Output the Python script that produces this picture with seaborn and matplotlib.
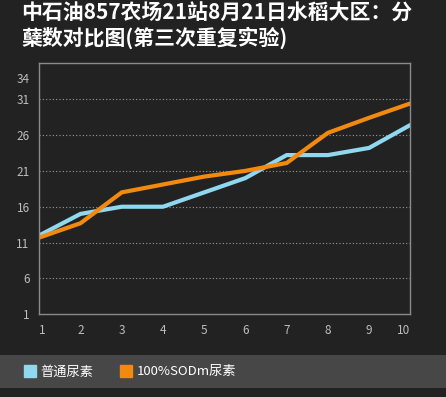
import pandas as pd
import seaborn as sns
from matplotlib import pyplot as plt
from matplotlib.lines import Line2D
from matplotlib.patches import Rectangle

days = [1, 2, 3, 4, 5, 6, 7, 8, 9, 10]
normal_urea = [12, 15, 16, 16, 18, 20, 23.2, 23.2, 24.2, 27.4]
sod_urea = [11.7, 13.7, 18, 19.1, 20.2, 21, 22.1, 26.3, 28.4, 30.4]
series_names = ["普通尿素", "100%SODm尿素"]
y_ticks = [1, 6, 11, 16, 21, 26, 31, 34]

title = "中石油857农场21站8月21日水稻大区：分\n蘖数对比图(第三次重复实验)"

BG = "#222222"
BAND = "#474747"
TEXT = "#bdbdbd"
COLORS = ["#8fd8ef", "#f28a0f"]


def build_frame():
    df = pd.DataFrame({
        "day": days * 2,
        "value": normal_urea + sod_urea,
        "series": [series_names[0]] * len(days) + [series_names[1]] * len(days),
    })
    return df


def plot_lines(df, file_name):
    sns.set_style("dark")
    plt.rcParams["font.family"] = ["Noto Sans CJK SC", "DejaVu Sans"]

    fig = plt.figure(figsize=(4.46, 3.97), dpi=100, facecolor=BG)
    ax = fig.add_axes([0.0881, 0.2083, 0.832, 0.6323])
    ax.set_facecolor(BG)

    sns.lineplot(data=df, x="day", y="value", hue="series", palette=COLORS,
                 linewidth=3, ax=ax, legend=False, solid_joinstyle="miter")

    ax.set_xlim(1, 10)
    ax.set_ylim(1, 36)
    ax.set_xticks(days)
    ax.set_yticks(y_ticks)
    ax.tick_params(colors=TEXT, labelsize=8.5, length=0, pad=7)
    labels = ax.get_xticklabels()
    labels[0].set_horizontalalignment("left")
    labels[-1].set_horizontalalignment("right")
    for spine in ax.spines.values():
        spine.set_color("#8a8a8a")
        spine.set_linewidth(1)
    ax.set_xlabel("")
    ax.set_ylabel("")

    ax.grid(False)
    for t in y_ticks[1:-1]:
        ax.axhline(t, color="#9a9a9a", linestyle=(0, (1, 2)), linewidth=0.8, zorder=0)

    fig.text(0.047, 0.992, title, color="white", fontsize=15, fontweight="bold",
             ha="left", va="top", linespacing=1.15)

    fig.patches.append(Rectangle((0, 1 - 388 / 397), 1, 33 / 397, transform=fig.transFigure,
                                 facecolor=BAND, edgecolor="none", zorder=0))
    handles = [Line2D([], [], marker="s", linestyle="none", markersize=8,
                      markerfacecolor=c, markeredgecolor=c) for c in COLORS]
    fig.legend(handles, series_names, loc="center left", bbox_to_anchor=(0.025, 1 - 372 / 397),
               ncol=2, frameon=False, fontsize=9.5, labelcolor="white",
               handletextpad=0.3, columnspacing=2.0, handlelength=1.0)

    plt.savefig(file_name, facecolor=BG)


def main():
    df = build_frame()
    plot_lines(df, "out.png")


if __name__ == "__main__":
    main()
